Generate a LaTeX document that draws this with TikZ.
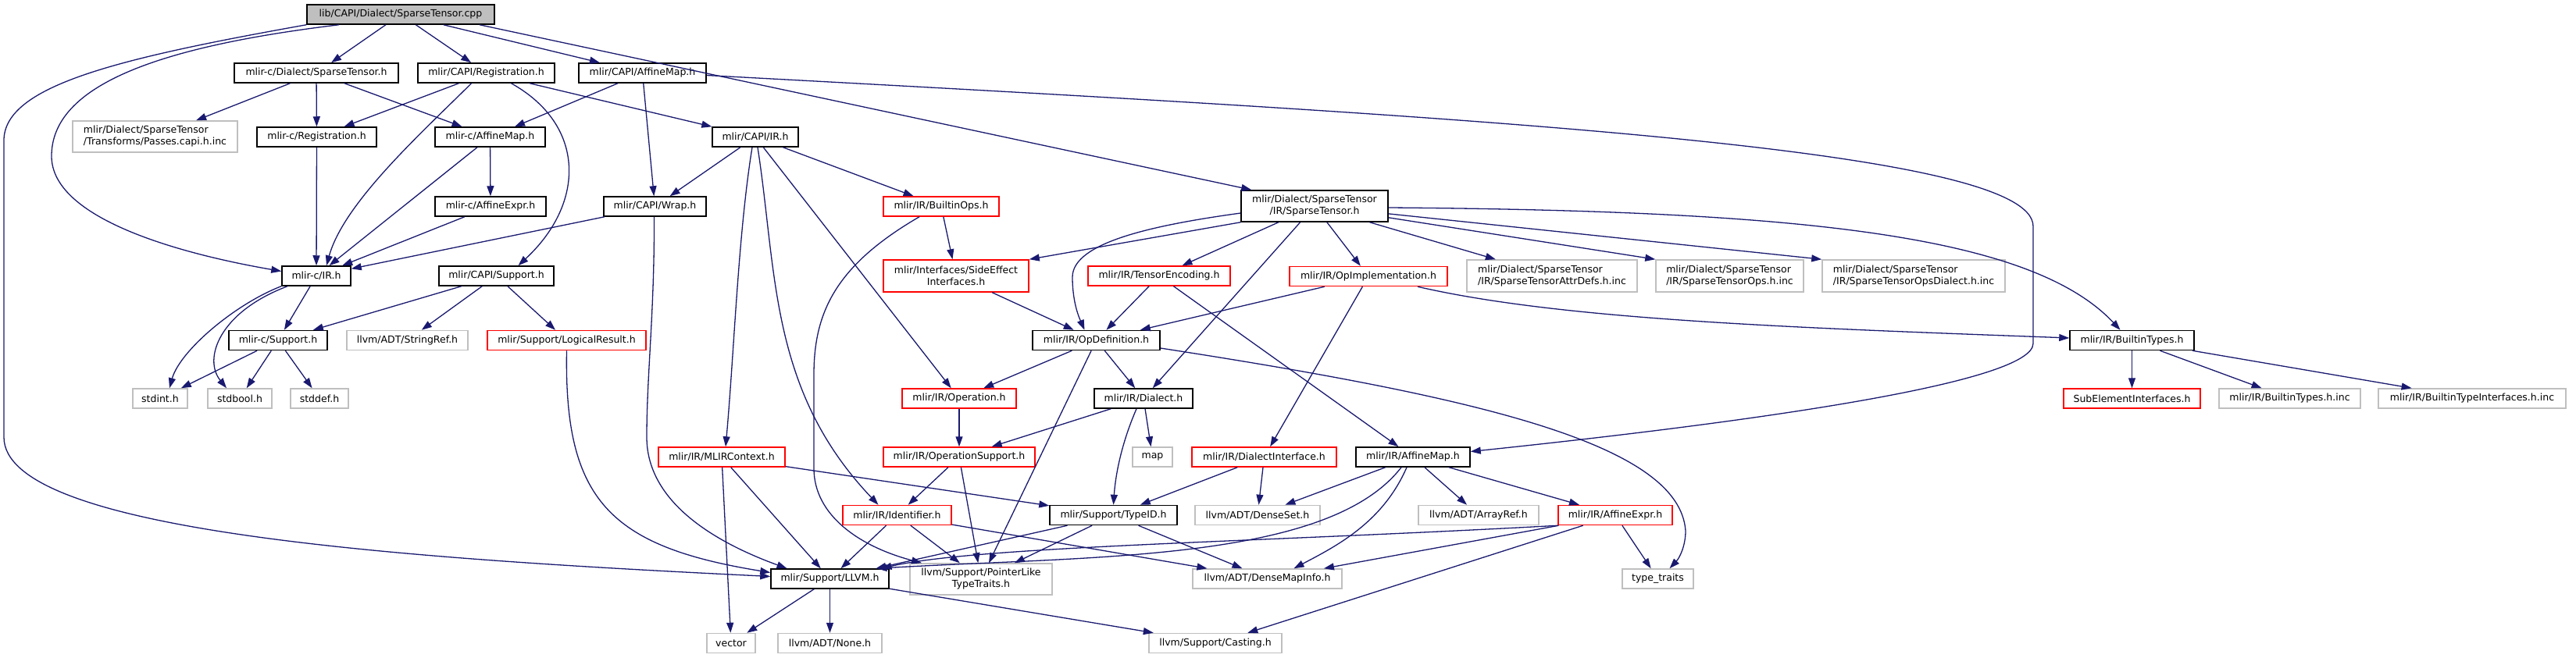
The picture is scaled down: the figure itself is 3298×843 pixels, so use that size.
\documentclass[tikz,border=0pt]{standalone}
\usepackage{fontspec}
\setmainfont{DejaVu Sans}
\usepackage{xcolor}
\usepackage{tikz}
\usetikzlibrary{arrows.meta}
\definecolor{edgeblue}{HTML}{191970}
\definecolor{grey75}{HTML}{BFBFBF}
\tikzset{
    header/.style={rectangle, draw=black, line width=1.5pt, inner sep=0pt, minimum height=25,
        font=\fontsize{12.5}{15}\selectfont, align=center},
    sys header/.style={header, draw=grey75},
    cut header/.style={header, draw=red},
    source/.style={header, fill=grey75},
    dep/.style={draw=edgeblue, line width=1.3pt, -{Triangle[length=13pt,width=9pt]}}
}

\begin{document}
\begin{tikzpicture}[x=1pt, y=-1pt]
    \useasboundingbox (0,0) rectangle (3298,843);

    \node[source, minimum width=240] (root) at (513,18.5) {lib/CAPI/Dialect/SparseTensor.cpp};
    \node[header, minimum width=210] (csparse) at (405,93.5) {mlir-c/Dialect/SparseTensor.h};
    \node[header, minimum width=175] (capireg) at (622.5,93.5) {mlir/CAPI/Registration.h};
    \node[header, minimum width=163] (capiaff) at (822.5,93.5) {mlir/CAPI/AffineMap.h};
    \node[sys header, minimum width=211, minimum height=40, align=left] (passes) at (198.5,175) {mlir/Dialect/SparseTensor\\/Transforms/Passes.capi.h.inc};
    \node[header, minimum width=153] (creg) at (405.5,175.5) {mlir-c/Registration.h};
    \node[header, minimum width=141] (caff) at (627.5,175.5) {mlir-c/AffineMap.h};
    \node[header, minimum width=110] (capiir) at (967,175.5) {mlir/CAPI/IR.h};
    \node[header, minimum width=142] (cexpr) at (628,264.5) {mlir-c/AffineExpr.h};
    \node[header, minimum width=131] (wrap) at (838.5,264.5) {mlir/CAPI/Wrap.h};
    \node[cut header, minimum width=148] (builtinops) at (1205,264.5) {mlir/IR/BuiltinOps.h};
    \node[header, minimum width=188, minimum height=40] (stensor) at (1683,264) {mlir/Dialect/SparseTensor\\/IR/SparseTensor.h};
    \node[header, minimum width=88] (cir) at (405,353.5) {mlir-c/IR.h};
    \node[header, minimum width=147] (capisup) at (635.5,353.5) {mlir/CAPI/Support.h};
    \node[cut header, minimum width=186, minimum height=41] (sideeffect) at (1224,353.5) {mlir/Interfaces/SideEffect\\Interfaces.h};
    \node[cut header, minimum width=182] (tensorenc) at (1484,353.5) {mlir/IR/TensorEncoding.h};
    \node[cut header, minimum width=202] (opimpl) at (1752,354) {mlir/IR/OpImplementation.h};
    \node[sys header, minimum width=218, minimum height=41, align=left] (attrdefs) at (1987,353.5) {mlir/Dialect/SparseTensor\\/IR/SparseTensorAttrDefs.h.inc};
    \node[sys header, minimum width=189, minimum height=41, align=left] (opsinc) at (2214.5,353.5) {mlir/Dialect/SparseTensor\\/IR/SparseTensorOps.h.inc};
    \node[sys header, minimum width=234, minimum height=41, align=left] (dialinc) at (2450,353.5) {mlir/Dialect/SparseTensor\\/IR/SparseTensorOpsDialect.h.inc};
    \node[header, minimum width=126] (csup) at (356,436) {mlir-c/Support.h};
    \node[sys header, minimum width=155] (stringref) at (521.5,436) {llvm/ADT/StringRef.h};
    \node[cut header, minimum width=203] (logical) at (725.5,436) {mlir/Support/LogicalResult.h};
    \node[header, minimum width=163] (opdef) at (1403.5,436) {mlir/IR/OpDefinition.h};
    \node[header, minimum width=159] (builtintypes) at (2729.5,436) {mlir/IR/BuiltinTypes.h};
    \node[sys header, minimum width=70] (stdint) at (205,510.5) {stdint.h};
    \node[sys header, minimum width=82] (stdbool) at (307,510.5) {stdbool.h};
    \node[sys header, minimum width=74] (stddef) at (409,510.5) {stddef.h};
    \node[cut header, minimum width=146] (operation) at (1228,510.5) {mlir/IR/Operation.h};
    \node[header, minimum width=126] (dialect) at (1464,510.5) {mlir/IR/Dialect.h};
    \node[cut header, minimum width=175] (subelem) at (2729.5,510.5) {SubElementInterfaces.h};
    \node[sys header, minimum width=181] (btinc) at (2931.5,510.5) {mlir/IR/BuiltinTypes.h.inc};
    \node[sys header, minimum width=240] (btiinc) at (3165,510.5) {mlir/IR/BuiltinTypeInterfaces.h.inc};
    \node[cut header, minimum width=162] (mlirctx) at (924,585.5) {mlir/IR/MLIRContext.h};
    \node[cut header, minimum width=194] (opsupport) at (1228,585.5) {mlir/IR/OperationSupport.h};
    \node[sys header, minimum width=51] (map) at (1475.5,585.5) {map};
    \node[cut header, minimum width=185] (dialiface) at (1618.5,585.5) {mlir/IR/DialectInterface.h};
    \node[header, minimum width=146] (irmap) at (1809,585.5) {mlir/IR/AffineMap.h};
    \node[cut header, minimum width=139] (identifier) at (1148.5,660) {mlir/IR/Identifier.h};
    \node[header, minimum width=163] (typeid) at (1425.5,660) {mlir/Support/TypeID.h};
    \node[sys header, minimum width=160] (denseset) at (1610,660) {llvm/ADT/DenseSet.h};
    \node[sys header, minimum width=154] (arrayref) at (1893,660) {llvm/ADT/ArrayRef.h};
    \node[cut header, minimum width=146] (irexpr) at (2068,660) {mlir/IR/AffineExpr.h};
    \node[header, minimum width=151] (llvmh) at (1062.5,741.5) {mlir/Support/LLVM.h};
    \node[sys header, minimum width=182, minimum height=40] (pointerlike) at (1256,742) {llvm/Support/PointerLike\\TypeTraits.h};
    \node[sys header, minimum width=191] (densemapinfo) at (1622.5,741.5) {llvm/ADT/DenseMapInfo.h};
    \node[sys header, minimum width=91] (typetraits) at (2122.5,741.5) {type\_traits};
    \node[sys header, minimum width=62] (vector) at (936,824) {vector};
    \node[sys header, minimum width=133] (none) at (1062.5,824) {llvm/ADT/None.h};
    \node[sys header, minimum width=170] (casting) at (1556,824) {llvm/Support/Casting.h};

    % straight includes
    \draw[dep] (root) -- (csparse);
    \draw[dep] (root) -- (capireg);
    \draw[dep] (root) -- (capiaff);
    \draw[dep] ([xshift=101pt]root.south) -- ([xshift=14pt]stensor.north west);
    \draw[dep] (csparse) -- (passes);
    \draw[dep] (csparse) -- (creg);
    \draw[dep] (csparse) -- (caff);
    \draw[dep] (capireg) -- (creg);
    \draw[dep] (capireg) -- (capiir);
    \draw[dep] (capiaff) -- (caff);
    \draw[dep] (capiaff) -- (wrap);
    \draw[dep] (creg) -- (cir);
    \draw[dep] (caff) -- (cexpr);
    \draw[dep] (caff) -- (cir);
    \draw[dep] (cexpr) -- (cir);
    \draw[dep] (wrap) -- (cir);
    \draw[dep] (cir) -- (csup);
    \draw[dep] (csup) -- (stdint);
    \draw[dep] (csup) -- (stdbool);
    \draw[dep] (csup) -- (stddef);
    \draw[dep] (capisup) -- (csup);
    \draw[dep] (capisup) -- (stringref);
    \draw[dep] (capisup) -- (logical);
    \draw[dep] (capiir) -- (wrap);
    \draw[dep] (capiir) -- (operation);
    \draw[dep] (capiir) -- (builtinops);
    \draw[dep] (builtinops) -- (sideeffect);
    \draw[dep] (sideeffect) -- (opdef);
    \draw[dep] (tensorenc) -- (opdef);
    \draw[dep] (tensorenc) -- (irmap);
    \draw[dep] (stensor.south west) -- (sideeffect.north east);
    \draw[dep] (stensor) -- (tensorenc);
    \draw[dep] (stensor) -- (dialect);
    \draw[dep] (stensor) -- (opimpl);
    \draw[dep] (stensor) -- (attrdefs);
    \draw[dep] (stensor) -- (opsinc.north west);
    \draw[dep] (stensor) -- (dialinc.north west);
    \draw[dep] (opimpl) -- (opdef);
    \draw[dep] (opimpl) -- (dialiface);
    \draw[dep] (opdef) -- (operation);
    \draw[dep] (opdef) -- (dialect);
    \draw[dep] (opdef) -- (pointerlike);
    \draw[dep] (dialect) -- (opsupport);
    \draw[dep] (dialect) -- (map);
    \draw[dep] (operation) -- (opsupport);
    \draw[dep] (mlirctx) -- (vector);
    \draw[dep] (mlirctx) -- (llvmh);
    \draw[dep] (mlirctx) -- (typeid);
    \draw[dep] (opsupport) -- (identifier);
    \draw[dep] (opsupport) -- (pointerlike);
    \draw[dep] (dialiface) -- (typeid);
    \draw[dep] (dialiface) -- (denseset);
    \draw[dep] (identifier) -- (llvmh);
    \draw[dep] (identifier) -- (pointerlike);
    \draw[dep] (identifier) -- (densemapinfo);
    \draw[dep] (typeid) -- (llvmh);
    \draw[dep] (typeid) -- (pointerlike);
    \draw[dep] (typeid) -- (densemapinfo);
    \draw[dep] (irmap) -- (denseset);
    \draw[dep] (irmap) -- (arrayref);
    \draw[dep] (irmap) -- (irexpr);
    \draw[dep] (irexpr) -- (densemapinfo);
    \draw[dep] (irexpr) -- (casting);
    \draw[dep] (irexpr) -- (typetraits);
    \draw[dep] (llvmh) -- (vector);
    \draw[dep] (llvmh) -- (none);
    \draw[dep] (llvmh) -- (casting);
    \draw[dep] (builtintypes) -- (subelem);
    \draw[dep] (builtintypes) -- (btinc);
    \draw[dep] (builtintypes) -- (btiinc);

    % bent includes
    \draw[dep] (root.south west) .. controls (150,75) and (5,110) .. (5,180) -- (5,560)
        .. controls (5,680) and (500,715) .. ([yshift=3pt]llvmh.west);
    \draw[dep] ([xshift=-79pt]root.south) .. controls (200,60) and (66,110) .. (66,200)
        .. controls (66,280) and (230,325) .. ([yshift=6pt]cir.west);
    \draw[dep] ([xshift=-19pt]capireg.south) .. controls (540,170) and (440,260) .. ([xshift=13pt]cir.north);
    \draw[dep] ([xshift=32pt]capireg.south) .. controls (750,160) and (750,260) .. ([xshift=28pt]capisup.north);
    \draw[dep] ([yshift=-3pt]capiaff.east) .. controls (1900,150) and (2603,190) .. (2603,290) -- (2603,440)
        .. controls (2603,490) and (2250,540) .. ([yshift=7pt]irmap.east);
    \draw[dep] ([xshift=-1pt]wrap.south) .. controls (838,400) and (828,480) .. (828,560)
        .. controls (828,650) and (930,700) .. ([xshift=-55pt]llvmh.north);
    \draw[dep] ([xshift=-45pt]cir.south) .. controls (300,390) and (230,450) .. ([xshift=12pt]stdint.north);
    \draw[dep] ([xshift=-37pt]cir.south) .. controls (280,400) and (260,460) .. ([xshift=-17pt]stdbool.north);
    \draw[dep] (logical.south) .. controls (722,640) and (780,700) .. ([yshift=8pt]llvmh.west);
    \draw[dep] ([xshift=-4pt]capiir.south) .. controls (945,300) and (940,450) .. ([xshift=5pt]mlirctx.north);
    \draw[dep] ([xshift=3pt]capiir.south) .. controls (995,350) and (985,500) .. ([xshift=-24pt]identifier.north);
    \draw[dep] ([xshift=-28pt]builtinops.south) .. controls (1070,340) and (1042,400) .. (1042,480) -- (1042,600)
        .. controls (1042,660) and (1100,700) .. ([xshift=-76pt]pointerlike.north);
    \draw[dep] ([yshift=-9pt]stensor.west) .. controls (1480,288) and (1373,310) .. (1373,355)
        .. controls (1373,390) and (1383,410) .. ([xshift=-15pt]opdef.north);
    \draw[dep] ([yshift=-2pt]stensor.east) .. controls (2300,270) and (2600,300) .. ([xshift=-15pt]builtintypes.north);
    \draw[dep] ([xshift=63pt]opimpl.south) .. controls (2000,410) and (2300,420) .. ([yshift=3pt]builtintypes.west);
    \draw[dep] ([yshift=-10pt]opdef.east) .. controls (1900,510) and (2150,570) .. (2158,680)
        .. controls (2158,700) and (2150,715) .. ([xshift=15pt]typetraits.north);
    \draw[dep] ([xshift=-9pt]dialect.south) .. controls (1435,570) and (1428,610) .. (typeid.north);
    \draw[dep] ([xshift=-15pt]irmap.south) .. controls (1700,720) and (1400,712) .. ([xshift=60pt]llvmh.north);
    \draw[dep] ([xshift=-8pt]irmap.south) .. controls (1770,670) and (1710,700) .. ([xshift=34pt]densemapinfo.north);
    \draw[dep] (irexpr.south west) .. controls (1600,695) and (1250,700) .. ([xshift=66pt]llvmh.north);

\end{tikzpicture}
\end{document}
